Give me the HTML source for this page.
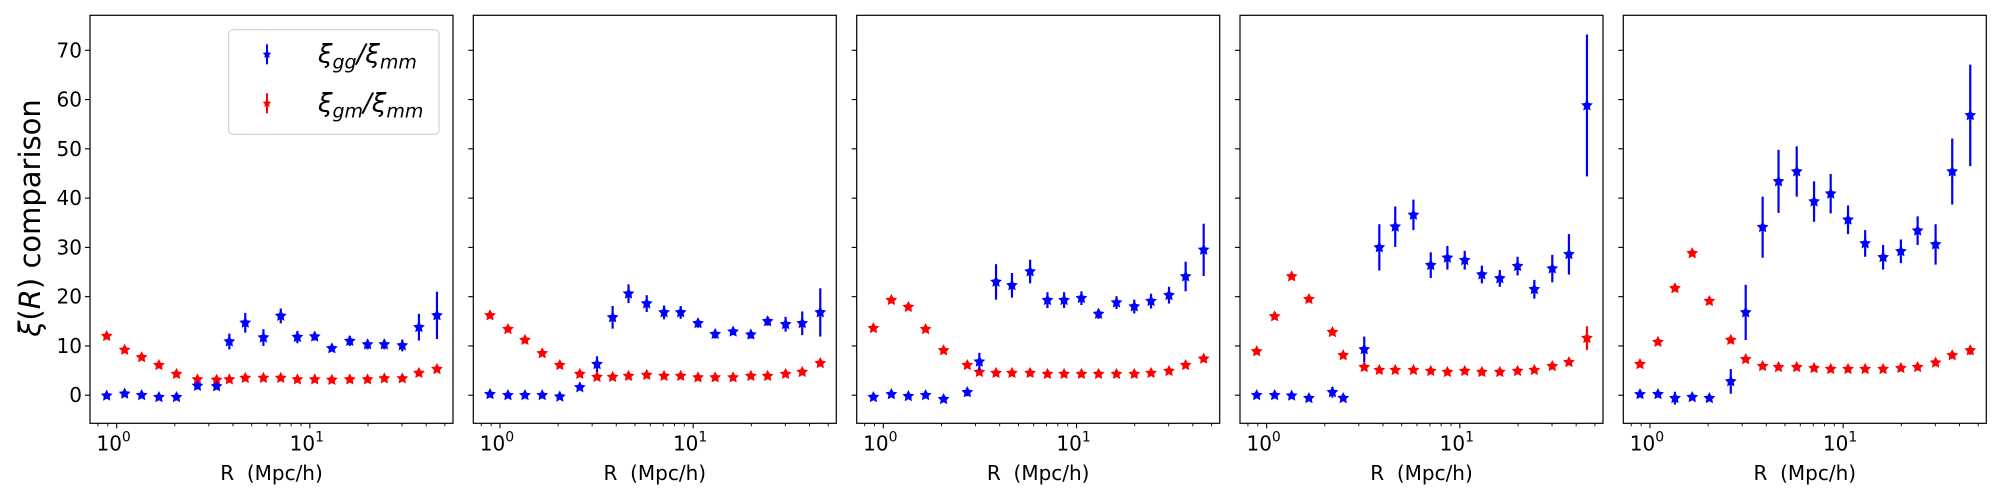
<!DOCTYPE html>
<html><head><meta charset="utf-8"><style>
html,body{margin:0;padding:0;background:#fff;}
svg{display:block;font-family:"DejaVu Sans","Liberation Sans",sans-serif;}
</style></head><body>
<svg id="chart" width="2000" height="500" viewBox="0 0 2000 500" xmlns="http://www.w3.org/2000/svg">
<rect x="0" y="0" width="2000" height="500" fill="#fff"/>
<text transform="translate(40,218) rotate(-90)" text-anchor="middle" font-size="29"><tspan font-style="italic">ξ</tspan>(<tspan font-style="italic">R</tspan>) comparison</text>
<g id="panels"></g>
</svg>
<script>
// ---- data ----
const rCommon = [0.888,1.100,1.347,1.655,2.04,2.62,3.25,3.83,4.63,5.75,7.07,8.62,10.6,13.0,16.1,19.9,24.3,30.1,36.7,45.5];
const rMid = [[2.04,2.62,3.29],[2.04,2.59,3.18],[2.05,2.72,3.14],[2.19,2.49,3.20],[2.03,2.62,3.13]];
const gg = [
 [-0.1,0.3,0,-0.4,-0.4,1.9,1.8,10.9,14.7,11.7,16.1,11.8,11.9,9.5,11.0,10.3,10.3,10.1,13.8,16.2],
 [0.2,0,0,0,-0.3,1.6,6.3,15.8,20.6,18.6,16.8,16.8,14.6,12.4,12.9,12.3,15.0,14.4,14.6,16.8],
 [-0.4,0.2,-0.2,0,-0.8,0.6,6.8,23.0,22.3,25.1,19.3,19.3,19.7,16.5,18.8,18.0,19.1,20.3,24.1,29.5],
 [0,0,-0.1,-0.6,0.6,-0.6,9.3,30.0,34.2,36.6,26.4,27.9,27.4,24.5,23.7,26.2,21.5,25.7,28.6,58.8],
 [0.2,0.2,-0.6,-0.4,-0.6,2.8,16.8,34.1,43.4,45.4,39.3,40.9,35.6,30.8,28.0,29.2,33.4,30.6,45.4,56.8]
];
const ggErr = [
 [0.4,0.4,0.4,0.4,0.4,0.7,0.6,1.6,2.0,1.7,1.5,1.25,0.8,0.6,1.0,1.0,1.0,1.2,2.7,4.8],
 [0.3,0.3,0.3,0.3,0.3,0.5,1.6,2.3,1.9,1.7,1.4,1.3,0.9,0.9,0.7,0.8,0.9,1.5,2.4,4.9],
 [0.4,0.4,0.4,0.4,0.4,0.8,1.8,3.6,2.5,2.4,1.6,1.6,1.4,1.0,1.3,1.4,1.5,1.7,3.0,5.3],
 [0.4,0.4,0.4,0.4,1.1,0.4,2.6,4.7,4.1,3.1,2.6,2.4,1.9,1.8,1.7,1.9,1.9,2.8,4.1,14.4],
 [0.4,0.4,1.3,0.4,0.4,2.5,5.6,6.2,6.4,5.1,4.1,4.0,2.9,2.7,2.5,2.4,2.9,4.1,6.7,10.3]
];
const gm = [
 [12.0,9.2,7.7,6.1,4.3,3.2,3.1,3.2,3.5,3.5,3.5,3.2,3.2,3.1,3.2,3.2,3.4,3.4,4.5,5.3],
 [16.2,13.4,11.2,8.5,6.1,4.3,3.7,3.7,3.9,4.1,3.9,3.9,3.6,3.6,3.6,3.9,3.9,4.3,4.7,6.5],
 [13.6,19.3,17.9,13.4,9.1,6.1,4.7,4.5,4.5,4.5,4.3,4.3,4.3,4.3,4.3,4.3,4.5,4.9,6.1,7.4],
 [8.9,16.0,24.1,19.5,12.8,8.1,5.7,5.1,5.1,5.1,4.9,4.7,4.9,4.7,4.7,4.9,5.1,5.9,6.7,11.6],
 [6.3,10.8,21.7,28.8,19.1,11.2,7.3,5.9,5.7,5.7,5.5,5.3,5.3,5.3,5.3,5.5,5.7,6.6,8.1,9.1]
];
const gmErr = [
 [0.3,0.3,0.3,0.3,0.3,0.3,0.3,0.3,0.3,0.3,0.3,0.3,0.3,0.3,0.3,0.3,0.3,0.3,0.4,0.6],
 [0.3,0.3,0.3,0.3,0.3,0.3,0.3,0.3,0.3,0.3,0.3,0.3,0.3,0.3,0.3,0.3,0.3,0.3,0.4,0.5],
 [0.3,0.3,0.3,0.3,0.3,0.3,0.3,0.3,0.3,0.3,0.3,0.3,0.3,0.3,0.3,0.3,0.3,0.3,0.4,0.6],
 [0.3,0.3,0.3,0.3,0.3,0.3,0.3,0.3,0.3,0.3,0.3,0.3,0.3,0.3,0.3,0.3,0.3,0.4,0.5,2.4],
 [0.3,0.3,0.3,0.3,0.3,0.3,0.3,0.3,0.3,0.3,0.3,0.3,0.3,0.3,0.3,0.3,0.3,0.4,0.5,0.9]
];
const yTicks = [0,10,20,30,40,50,60,70];
const yMin = -5.7, yMax = 77.1;
const xMinLog = -0.138, xMaxLog = 1.741;

// ---- layout ----
const NS = "http://www.w3.org/2000/svg";
const panelLefts = [90, 473.3, 856.7, 1240, 1623.3];
const PW = 363, PT = 15.3, PB = 423.3;
const g = document.getElementById('panels');
function el(tag, attrs, parent){ const e=document.createElementNS(NS,tag); for(const k in attrs) e.setAttribute(k,attrs[k]); (parent||g).appendChild(e); return e; }
function starPts(cx,cy,r){ let p=[]; for(let i=0;i<10;i++){ const a=-Math.PI/2+i*Math.PI/5; const rr=i%2?r*0.5:r; p.push((cx+rr*Math.cos(a)).toFixed(2)+','+(cy+rr*Math.sin(a)).toFixed(2)); } return p.join(' '); }

for(let p=0;p<5;p++){
  const L = panelLefts[p];
  const xs = v => L + (Math.log10(v)-xMinLog)/(xMaxLog-xMinLog)*PW;
  const ys = v => PB - (v-yMin)/(yMax-yMin)*(PB-PT);
  const pg = el('g',{});
  
  
  yTicks.forEach(t=>{
    const y=ys(t);
    const tk=el('line',{x1:L-5,x2:L,y1:y,y2:y,stroke:'#000','stroke-width':1.1},pg);
    
    
    if(p===0){
      const tx=el('text',{x:L-8,y:y+7,'text-anchor':'end','font-size':20},pg);
      
      
      tx.textContent=t;
    }
  });
  for(let d=-1; d<=1; d++){
    for(let m=1;m<10;m++){
      const v=m*Math.pow(10,d); const lv=Math.log10(v);
      if(lv<xMinLog||lv>xMaxLog) continue;
      const x=xs(v); const major=(m===1);
      const tk=el('line',{x1:x,x2:x,y1:PB,y2:PB+(major?5:3),stroke:'#000','stroke-width':major?1.1:0.9},pg);
      
      
      if(major){
        const tx=el('text',{x:x-3,y:PB+27,'text-anchor':'middle','font-size':20},pg);
        
        
        tx.innerHTML='10<tspan dy="-9" font-size="14">'+d+'</tspan>';
      }
    }
  }
  const xl=el('text',{x:L+PW/2,y:480,'text-anchor':'middle','font-size':20},pg);
  
  
  xl.style.whiteSpace='pre';
  xl.textContent='R  (Mpc/h)';
  const R = rCommon.slice(); R[4]=rMid[p][0]; R[5]=rMid[p][1]; R[6]=rMid[p][2];
  [[gm[p],gmErr[p],'#ff0000','gm'],[gg[p],ggErr[p],'#0000ff','gg']].forEach(([vals,errs,col,nm])=>{
    vals.forEach((v,i)=>{
      const x=xs(R[i]), y=ys(v);
      const eb=el('line',{x1:x,x2:x,y1:ys(v-errs[i]),y2:ys(v+errs[i]),stroke:col,'stroke-width':2.2},pg);
      
      
      const s=el('polygon',{points:starPts(x,y,6.2),fill:col},pg);
      
      
    });
  });
  const fr=el('rect',{x:L,y:PT,width:PW,height:PB-PT,fill:'none',stroke:'#000','stroke-width':1.2},pg);
  
  
}
const lg=el('g',{});


el('rect',{x:228.7,y:29.7,width:210.3,height:104.6,rx:4,fill:'#fff','fill-opacity':0.8,stroke:'#cccccc','stroke-width':1},lg);
[['#0000ff',54.3,'gg'],['#ff0000',103.3,'gm']].forEach(([col,y,sub])=>{
  const ln=el('line',{x1:267,x2:267,y1:y-10,y2:y+10,stroke:col,'stroke-width':2},lg);
  
  
  el('polygon',{points:starPts(267,y,4.5),fill:col},lg);
  const t=el('text',{x:318,y:y+8,'font-size':26,'font-style':'italic'},lg);
  
  
  t.innerHTML='ξ<tspan dy="6" font-size="19">'+sub+'</tspan><tspan dy="-6">/ξ</tspan><tspan dy="6" font-size="19">mm</tspan>';
});
</script>
</body></html>
